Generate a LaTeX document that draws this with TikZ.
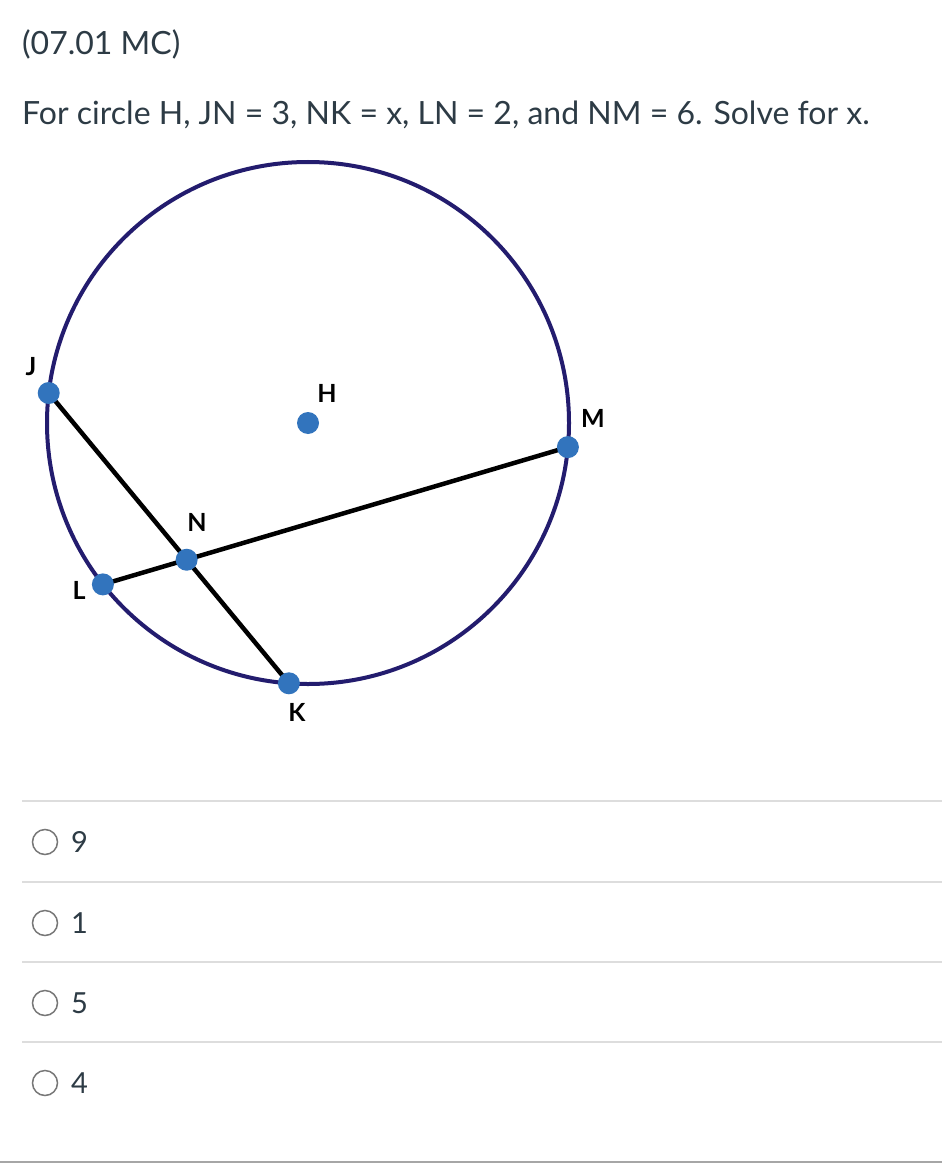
\documentclass[tikz,border=0pt]{standalone}
\usepackage{fontspec}
\setmainfont{Lato}
\usetikzlibrary{positioning}
\definecolor{inkgray}{HTML}{2D3B45}
\definecolor{rimblue}{HTML}{231C6E}
\definecolor{dotblue}{HTML}{3274BD}
\definecolor{rulegray}{HTML}{DDDDDD}
\definecolor{radiogray}{HTML}{777777}
\begin{document}
\begin{tikzpicture}[x=1pt,y=1pt]
  \tikzstyle{txt}=[anchor=base west, inner sep=0pt, text=inkgray, font=\fontsize{32}{38}\selectfont]
  \tikzstyle{opt}=[anchor=base west, inner sep=0pt, text=inkgray, font=\fontsize{29}{34}\selectfont]
  \tikzstyle{lbl}=[inner sep=0pt, text=black, font=\fontsize{25}{30}\selectfont\bfseries]
  \tikzstyle{rim}=[draw=rimblue, line width=4pt]
  \tikzstyle{chord}=[draw=black, line width=4.5pt]
  \tikzstyle{pt}=[circle, fill=dotblue, inner sep=0pt, minimum size=22pt]
  \tikzstyle{divider}=[draw=rulegray, line width=2pt]
  \tikzstyle{radio}=[circle, draw=radiogray, line width=1.5pt, inner sep=0pt, minimum width=25pt, minimum height=25pt]

  \useasboundingbox[fill=white] (0,0) rectangle (942,-1174);

  \node[txt] (title) at (22,-55) {(07.01 MC)};
  \node[txt] (quest) at (22,-125) {For circle H, JN = 3, NK = x, LN = 2, and NM = 6. Solve for x.};

  % circle H and its chords
  \coordinate (H) at (308,-423);
  \draw[rim] (H) circle[radius=261];
  \coordinate (J) at ([shift={(173.4:261)}]H);
  \coordinate (M) at ([shift={(-5.3:261)}]H);
  \coordinate (L) at ([shift={(218.2:261)}]H);
  \coordinate (K) at ([shift={(265.8:261)}]H);
  \coordinate (N) at (intersection of J--K and L--M);
  \draw[chord] (J) -- (K);
  \draw[chord] (L) -- (M);
  \foreach \p in {J,K,L,M,N,H}
    \node[pt] (d\p) at (\p) {};

  \node[lbl] (lJ) at (31,-367) {J};
  \node[lbl] (lH) at (327,-393) {H};
  \node[lbl] (lM) at (593,-418) {M};
  \node[lbl] (lN) at (197,-522) {N};
  \node[lbl] (lL) at (79,-590) {L};
  \node[lbl] (lK) at (297,-712) {K};

  % answer choices
  \foreach \y/\v [count=\i] in {801/9,882/1,962/5,1042/4} {
    \draw[divider] (22,-\y) -- (942,-\y);
    \node[radio] (r\i) at (45,-\y-41) {};
    \node[opt] (a\i) at (71,-\y-51) {\v};
  }
  \draw[draw=gray!70, line width=2pt] (0,-1162) -- (942,-1162);
\end{tikzpicture}
\end{document}
